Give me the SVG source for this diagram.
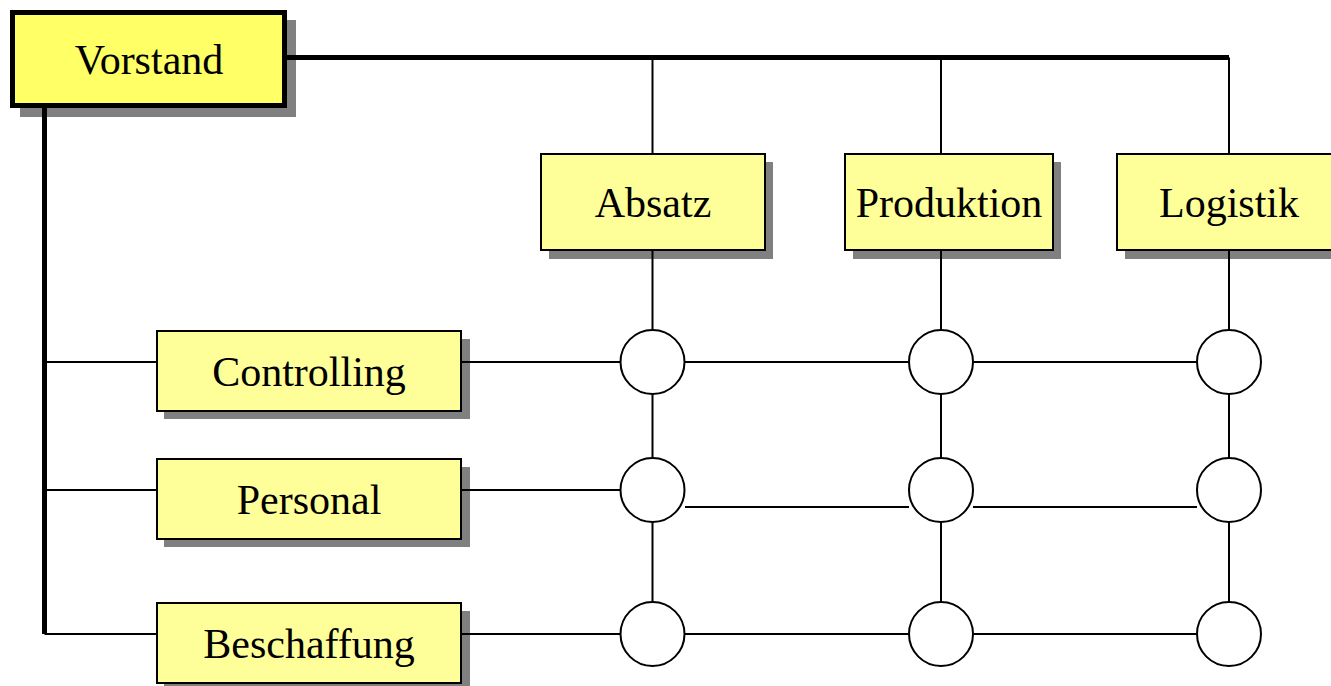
<svg xmlns="http://www.w3.org/2000/svg" width="1331" height="686" viewBox="0 0 1331 686">
  <style>
    .shadow { fill: #808080; }
    .box { fill: #FFFF99; stroke: #000; stroke-width: 2; }
    .top { fill: #FFFF66; stroke: #000; stroke-width: 5; }
    .label { font-family: "Liberation Serif", "Times New Roman", serif; font-size: 42px; fill: #000; text-anchor: middle; }
    .thin { stroke: #000; stroke-width: 2; fill: none; }
    .thick { stroke: #000; stroke-width: 5; fill: none; }
    .node { fill: #fff; stroke: #000; stroke-width: 2; }
  </style>
  <rect width="1331" height="686" fill="#fff"/>

  <g id="vorstand">
    <rect class="shadow" x="20" y="20" width="276" height="97"/>
    <rect class="top" x="12.5" y="12.5" width="272" height="93"/>
    <text class="label" x="149" y="74">Vorstand</text>
  </g>

  <g id="absatz">
    <rect class="shadow" x="549" y="162" width="224" height="97"/>
    <rect class="box" x="541" y="154" width="224" height="96"/>
    <text class="label" x="653" y="217">Absatz</text>
  </g>

  <g id="produktion">
    <rect class="shadow" x="853" y="162" width="208" height="97"/>
    <rect class="box" x="845" y="154" width="208" height="96"/>
    <text class="label" x="949" y="217">Produktion</text>
  </g>

  <g id="logistik">
    <rect class="shadow" x="1125" y="162" width="224" height="97"/>
    <rect class="box" x="1117" y="154" width="224" height="96"/>
    <text class="label" x="1229" y="217">Logistik</text>
  </g>

  <g id="controlling">
    <rect class="shadow" x="164" y="339" width="306" height="80"/>
    <rect class="box" x="157" y="331" width="304" height="80"/>
    <text class="label" x="309" y="385.5">Controlling</text>
  </g>

  <g id="personal">
    <rect class="shadow" x="164" y="467" width="306" height="80"/>
    <rect class="box" x="157" y="459" width="304" height="80"/>
    <text class="label" x="309" y="513.5">Personal</text>
  </g>

  <g id="beschaffung">
    <rect class="shadow" x="164" y="611" width="306" height="80"/>
    <rect class="box" x="157" y="603" width="304" height="80"/>
    <text class="label" x="309" y="658">Beschaffung</text>
  </g>

  <!-- connectors run over the drop shadows -->
  <g id="connectors">
    <!-- board spine -->
    <line class="thick" x1="287" y1="57.5" x2="1229" y2="57.5"/>
    <line class="thick" x1="44.5" y1="108" x2="44.5" y2="634"/>
    <!-- branches to staff units -->
    <line class="thin" x1="44.5" y1="362" x2="157" y2="362"/>
    <line class="thin" x1="44.5" y1="490" x2="157" y2="490"/>
    <line class="thin" x1="44.5" y1="634" x2="157" y2="634"/>
    <!-- drops to divisions -->
    <line class="thin" x1="652.5" y1="57.5" x2="652.5" y2="154"/>
    <line class="thin" x1="941" y1="57.5" x2="941" y2="154"/>
    <line class="thin" x1="1229" y1="57.5" x2="1229" y2="154"/>
    <!-- division columns -->
    <line class="thin" x1="652.5" y1="250" x2="652.5" y2="634"/>
    <line class="thin" x1="941" y1="250" x2="941" y2="634"/>
    <line class="thin" x1="1229" y1="250" x2="1229" y2="634"/>
    <!-- function rows -->
    <line class="thin" x1="461" y1="362" x2="1229" y2="362"/>
    <line class="thin" x1="461" y1="490" x2="653" y2="490"/>
    <line class="thin" x1="685" y1="507" x2="909" y2="507"/>
    <line class="thin" x1="973" y1="507" x2="1197" y2="507"/>
    <line class="thin" x1="461" y1="634" x2="1229" y2="634"/>
  </g>

  <!-- matrix intersections -->
  <g id="intersections">
    <circle class="node" cx="652.5" cy="362" r="32"/>
    <circle class="node" cx="941" cy="362" r="32"/>
    <circle class="node" cx="1229" cy="362" r="32"/>
    <circle class="node" cx="652.5" cy="490" r="32"/>
    <circle class="node" cx="941" cy="490" r="32"/>
    <circle class="node" cx="1229" cy="490" r="32"/>
    <circle class="node" cx="652.5" cy="634" r="32"/>
    <circle class="node" cx="941" cy="634" r="32"/>
    <circle class="node" cx="1229" cy="634" r="32"/>
  </g>
</svg>
